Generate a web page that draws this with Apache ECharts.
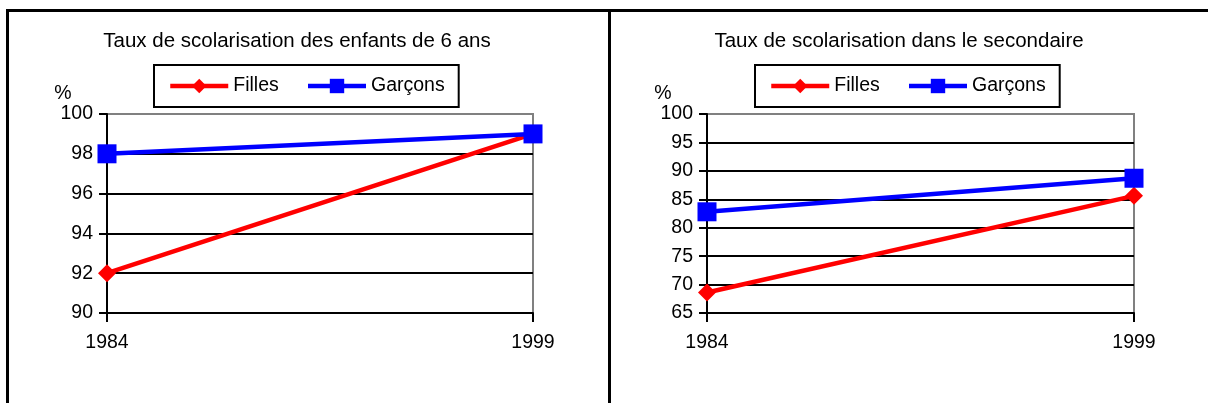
<!DOCTYPE html>
<html>
<head>
<meta charset="utf-8">
<script src="https://cdn.jsdelivr.net/npm/echarts@6/dist/echarts.min.js"></script>
<style>
html,body{margin:0;padding:0;background:#fff;}
#c{width:1208px;height:403px;}
</style>
</head>
<body>
<div id="c"></div>
<script>
// ---- data ----
const years = ['1984', '1999'];
const seriesNames = ['Filles', 'Garçons'];
const title1 = 'Taux de scolarisation des enfants de 6 ans';
const title2 = 'Taux de scolarisation dans le secondaire';
const filles6ans = [92, 99];
const garcons6ans = [98, 99];
const fillesSecondaire = [68.6, 85.6];
const garconsSecondaire = [82.8, 88.7];
const unitLabel = '%';

// ---- chart ----
const FONT = '"Liberation Sans", Arial, sans-serif';
const chart = echarts.init(document.getElementById('c'), null, {renderer: 'canvas'});

function xAxisDef(gi) {
  return {
    type: 'category', gridIndex: gi, data: years, boundaryGap: false,
    axisLine: {show: true, onZero: false, lineStyle: {color: '#000', width: 2}},
    axisTick: {show: true, length: 9, lineStyle: {color: '#000', width: 2}},
    axisLabel: {color: '#000', fontSize: 19.5, fontFamily: FONT, margin: 20},
    splitLine: {show: false}
  };
}
function yAxisDef(gi, min, max, interval) {
  return {
    type: 'value', gridIndex: gi, min: min, max: max, interval: interval,
    axisLine: {show: true, lineStyle: {color: '#000', width: 2}},
    axisTick: {show: true, length: 8, lineStyle: {color: '#000', width: 2}},
    axisLabel: {color: '#000', fontSize: 19.5, fontFamily: FONT, margin: 14},
    splitLine: {show: true, showMinLine: false, showMaxLine: false, lineStyle: {color: '#000', width: 2}}
  };
}
function legendDef(left, top) {
  return {
    data: seriesNames, left: left, top: top, orient: 'horizontal',
    borderColor: '#000', borderWidth: 2, padding: [11, 14],
    itemWidth: 58, itemHeight: 18, itemGap: 27,
    textStyle: {color: '#000', fontSize: 19.5, fontFamily: FONT},
    lineStyle: {width: 4.5}
  };
}
function lineSeries(name, data, gi, color, symbol, size) {
  return {
    name: name, type: 'line', xAxisIndex: gi, yAxisIndex: gi, data: data,
    symbol: symbol, symbolSize: size, showAllSymbol: true, clip: false,
    lineStyle: {color: color, width: 4.5},
    itemStyle: {color: color, borderWidth: 0},
    emphasis: {disabled: true},
    animation: false
  };
}

const option = {
  backgroundColor: '#fff',
  animation: false,
  textStyle: {fontFamily: FONT},
  title: [
    {text: title1, left: 292, top: 26, textAlign: 'center',
     textStyle: {fontSize: 20.5, fontWeight: 'normal', color: '#000', fontFamily: FONT}},
    {text: title2, left: 894, top: 26, textAlign: 'center',
     textStyle: {fontSize: 20.5, fontWeight: 'normal', color: '#000', fontFamily: FONT}}
  ],
  legend: [legendDef(154, 65), legendDef(755, 65)],
  grid: [
    {left: 107, top: 114, width: 426, height: 199, show: true, borderColor: '#808080', borderWidth: 2, containLabel: false},
    {left: 707, top: 114, width: 427, height: 199, show: true, borderColor: '#808080', borderWidth: 2, containLabel: false}
  ],
  xAxis: [xAxisDef(0), xAxisDef(1)],
  yAxis: [yAxisDef(0, 90, 100, 2), yAxisDef(1, 65, 100, 5)],
  series: [
    lineSeries(seriesNames[0], filles6ans, 0, '#ff0000', 'diamond', 18),
    lineSeries(seriesNames[1], garcons6ans, 0, '#0000ff', 'rect', 19),
    lineSeries(seriesNames[0], fillesSecondaire, 1, '#ff0000', 'diamond', 18),
    lineSeries(seriesNames[1], garconsSecondaire, 1, '#0000ff', 'rect', 19)
  ],
  graphic: [
    {type: 'line', shape: {x1: 6, y1: 10.5, x2: 1208, y2: 10.5}, style: {stroke: '#000', lineWidth: 3}, silent: true},
    {type: 'line', shape: {x1: 7.5, y1: 9, x2: 7.5, y2: 403}, style: {stroke: '#000', lineWidth: 3}, silent: true},
    {type: 'line', shape: {x1: 609.5, y1: 9, x2: 609.5, y2: 403}, style: {stroke: '#000', lineWidth: 3}, silent: true},
    {type: 'text', x: 63, y: 94, style: {text: unitLabel, fontSize: 19.5, fontFamily: FONT, fill: '#000', textAlign: 'center', textVerticalAlign: 'middle'}, silent: true},
    {type: 'text', x: 663, y: 94, style: {text: unitLabel, fontSize: 19.5, fontFamily: FONT, fill: '#000', textAlign: 'center', textVerticalAlign: 'middle'}, silent: true}
  ]
};
chart.setOption(option);
</script>
</body>
</html>
